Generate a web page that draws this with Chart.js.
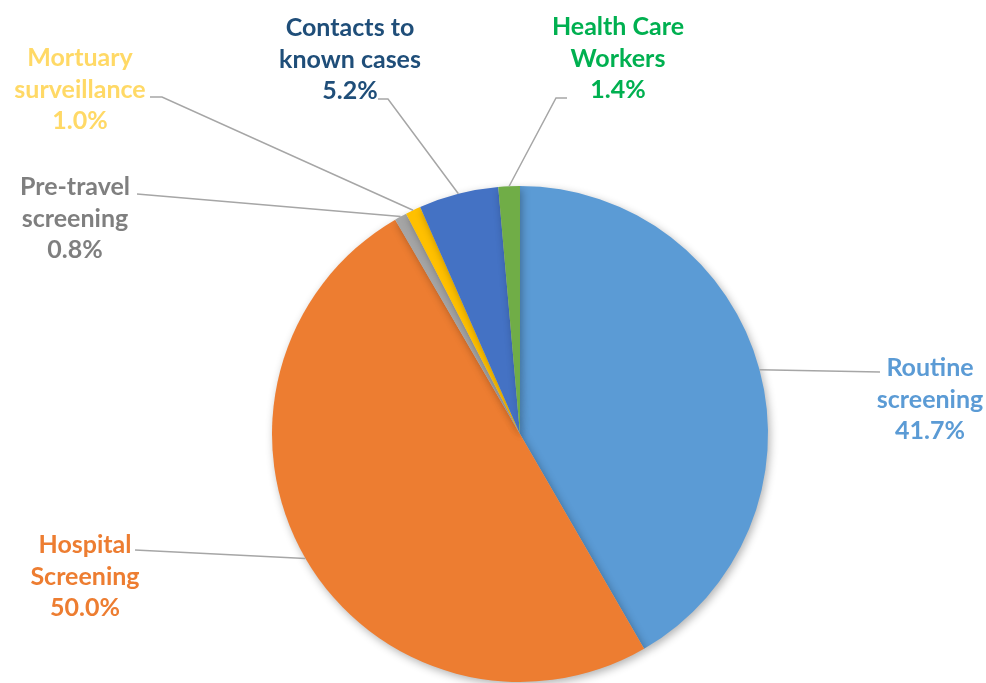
<!DOCTYPE html>
<html>
<head>
<meta charset="utf-8">
<script src="https://cdn.jsdelivr.net/npm/chart.js@4"></script>
<style>
  html, body { margin: 0; padding: 0; background: #fff; }
  #wrap { width: 986px; height: 683px; }
</style>
</head>
<body>
<div id="wrap"><canvas id="pie" width="986" height="683"></canvas></div>
<script>
// data
const categories = ['Routine screening', 'Hospital Screening', 'Pre-travel screening', 'Mortuary surveillance', 'Contacts to known cases', 'Health Care Workers'];
const labelLines = [['Routine', 'screening'], ['Hospital', 'Screening'], ['Pre-travel', 'screening'], ['Mortuary', 'surveillance'], ['Contacts to', 'known cases'], ['Health Care', 'Workers']];
const shares = [41.7, 50.0, 0.8, 1.0, 5.2, 1.4];

const sliceColors = ['#5B9BD5', '#ED7D31', '#A5A5A5', '#FFC000', '#4472C4', '#70AD47'];
const textColors = ['#5B9BD5', '#ED7D31', '#7F7F7F', '#FFD966', '#1F4E79', '#00B050'];

// where each label sits and where its leader line starts (x, y of first line, leader start, elbow x)
const labelPos = [
  { x: 930, y: 368, sx: 880, sy: 372, ex: 880 },
  { x: 85,  y: 545, sx: 135, sy: 550, ex: 135 },
  { x: 75,  y: 187, sx: 137, sy: 194, ex: 137 },
  { x: 80,  y: 58,  sx: 150, sy: 97,  ex: 162 },
  { x: 350, y: 28,  sx: 378, sy: 99,  ex: 388 },
  { x: 618, y: 27,  sx: 567, sy: 98,  ex: 556 }
];

const shadowPlugin = {
  id: 'shadow',
  beforeDatasetsDraw(chart) {
    const ctx = chart.ctx;
    ctx.save();
    ctx.shadowColor = 'rgba(0,0,0,0.3)';
    ctx.shadowBlur = 9;
    ctx.shadowOffsetX = 2;
    ctx.shadowOffsetY = 3;
  },
  afterDatasetsDraw(chart) {
    chart.ctx.restore();
  }
};

const labelPlugin = {
  id: 'pieLabels',
  afterDraw(chart) {
    const ctx = chart.ctx;
    const arcs = chart.getDatasetMeta(0).data;
    ctx.save();
    arcs.forEach((arc, i) => {
      const p = labelPos[i];
      const mid = (arc.startAngle + arc.endAngle) / 2;
      const px = arc.x + Math.cos(mid) * arc.outerRadius;
      const py = arc.y + Math.sin(mid) * arc.outerRadius;
      // leader line
      ctx.strokeStyle = '#A6A6A6';
      ctx.lineWidth = 1.5;
      ctx.beginPath();
      ctx.moveTo(p.sx, p.sy);
      ctx.lineTo(p.ex, p.sy);
      ctx.lineTo(px, py);
      ctx.stroke();
      // text
      ctx.fillStyle = textColors[i];
      ctx.font = 'bold 25px Lato, "Open Sans", sans-serif';
      ctx.textAlign = 'center';
      ctx.textBaseline = 'middle';
      const lines = labelLines[i].concat([shares[i].toFixed(1) + '%']);
      lines.forEach((t, k) => ctx.fillText(t, p.x, p.y + k * 31.5));
    });
    ctx.restore();
  }
};

new Chart(document.getElementById('pie'), {
  type: 'pie',
  data: {
    labels: categories,
    datasets: [{
      data: shares,
      backgroundColor: sliceColors,
      borderColor: '#ffffff',
      borderWidth: 0
    }]
  },
  options: {
    responsive: false,
    animation: false,
    layout: { padding: { left: 272, right: 218, top: 186, bottom: 1 } },
    plugins: {
      legend: { display: false },
      tooltip: { enabled: false }
    }
  },
  plugins: [shadowPlugin, labelPlugin]
});
</script>
</body>
</html>
